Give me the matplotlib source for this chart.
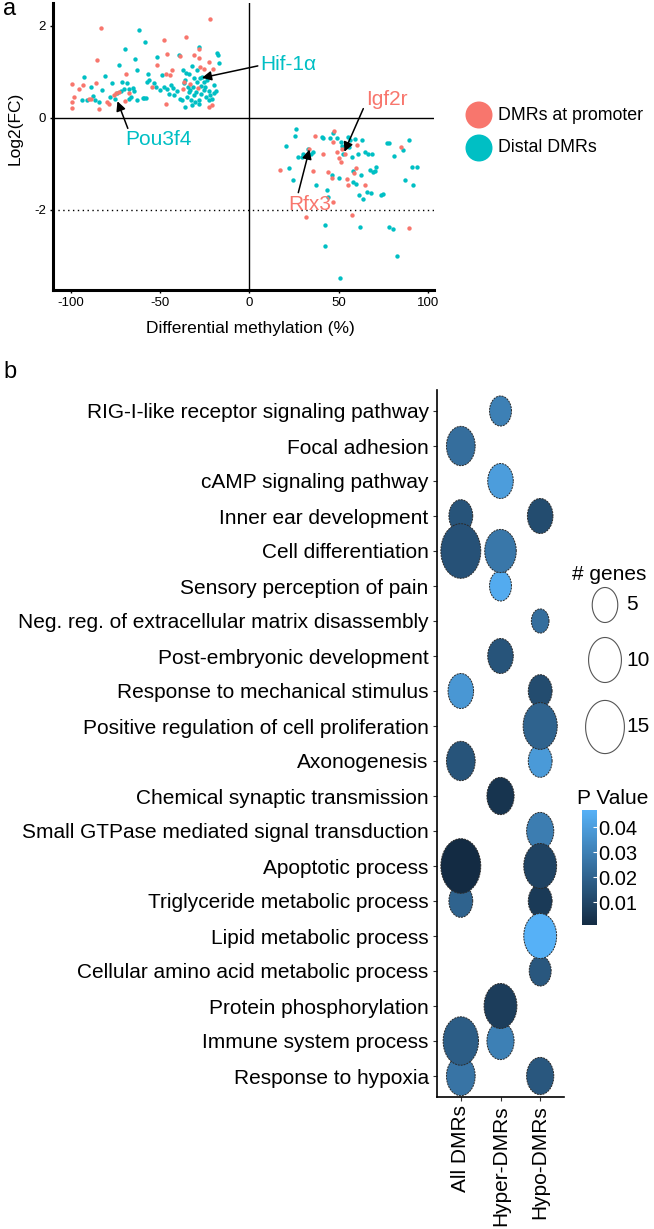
"""
Two-panel DMR figure: (a) log2FC vs differential methylation, (b) GO/KEGG bubble plot.
"""

import numpy as np
import matplotlib
matplotlib.use('Agg')
import matplotlib.pyplot as plt
from matplotlib.path import Path
from matplotlib.colors import LinearSegmentedColormap, Normalize
import matplotlib.cm as cm

plt.rcParams['font.family'] = ['Liberation Sans', 'DejaVu Sans']

W, H = 654, 1229
fig = plt.figure(figsize=(W / 100, H / 100), dpi=100)
fig.patch.set_facecolor('white')

pink = '#F8766D'
teal = '#00BFC4'

# ── panel a data: (differential methylation %, log2 FC) ──
prom_x = [-99.4, -99.4, -99.4, -98.1, -95.7, -93.3, -90.1, -88.8, -86.0, -85.4, -84.0, -83.0,
          -79.9, -78.9, -76.1, -74.6, -73.3, -69.6, -69.0, -67.7, -54.7, -51.9, -48.1, -46.8,
          -46.3, -46.6, -44.4, -43.5, -38.8, -37.3, -35.6, -33.2, -31.3, -28.0, -28.4, -27.6,
          -25.4, -22.9, -22.9, -22.0, -20.7, -20.5, -28.9, -36.6,
          17.2, 31.7, 33.6, 35.8, 36.8, 41.4, 44.2, 46.1, 47.0, 47.6, 50.4, 51.1, 51.7, 54.5,
          55.4, 57.3, 59.7, 60.4, 58.6, 64.7, 47.0, 84.9, 89.6, 53.4, 48.9]
prom_y = [0.73, 0.35, 0.22, 0.46, 0.62, 0.71, 0.40, 0.42, 0.76, 1.25, 0.20, 1.96,
          0.35, 0.31, 0.49, 0.54, 0.57, 0.37, 0.96, 0.53, 0.67, 1.14, 1.69, 0.95,
          1.38, 0.31, 0.93, 1.05, 1.34, 0.62, 1.76, 0.73, 1.36, 1.49, 1.31, 1.11,
          1.07, 1.22, 0.24, 2.16, 0.28, 1.07, 0.64, 0.78,
          -1.14, -2.15, -0.67, -1.15, -0.40, -0.79, -1.17, -1.32, -0.52, -0.28, -0.88, -0.96,
          -0.69, -1.33, -1.46, -2.12, -1.10, -0.59, -1.21, -1.46, -1.83, -0.63, -2.39, -0.78, -0.74]

dist_x = [-93.8, -92.5, -90.7, -88.8, -87.7, -86.4, -84.5, -82.6, -80.8, -78.0, -76.9, -75.2,
          -73.9, -72.8, -72.0, -71.5, -70.5, -69.6, -68.7, -67.7, -67.2, -66.4, -65.3, -64.9,
          -64.0, -63.1, -61.6, -59.7, -57.8, -57.5, -58.2, -56.9, -56.0, -53.4, -52.2, -50.0,
          -49.1, -48.1, -46.3, -45.3, -44.0, -42.9, -42.5, -40.7, -39.2, -38.8, -37.3, -36.9,
          -36.0, -35.4, -35.1, -34.5, -34.1, -33.6, -33.2, -32.8, -32.3, -31.7, -31.3, -31.0,
          -30.4, -29.9, -29.5, -29.1, -28.5, -28.0, -27.6, -27.2, -27.1, -26.3, -25.7, -25.4,
          -24.8, -24.3, -23.9, -22.9, -22.4, -22.0, -21.1, -20.1, -19.8, -18.7, -17.9, -17.4,
          -16.8, -37.9, -36.0, -32.3, -28.0, -59.0, -63.1, -51.5,
          20.5, 22.4, 24.6, 25.6, 26.1, 27.4, 29.3, 30.2, 32.1, 33.0, 34.5, 35.4, 37.3, 40.5,
          41.4, 42.4, 42.4, 43.7, 44.2, 45.1, 46.1, 47.0, 48.9, 50.4, 50.7, 51.1, 51.7, 52.6,
          54.5, 55.4, 56.0, 56.3, 57.3, 57.8, 58.2, 59.1, 59.7, 61.0, 61.6, 62.0, 62.3, 62.9,
          63.8, 64.7, 65.7, 66.6, 67.5, 67.9, 68.5, 69.4, 70.3, 70.9, 73.7, 74.6, 76.9, 78.4,
          78.4, 80.6, 81.2, 82.5, 86.2, 87.1, 89.6, 90.9, 91.4, 94.0]
dist_y = [0.38, 0.89, 0.38, 0.67, 0.47, 0.38, 0.35, 0.60, 0.91, 0.46, 0.76, 0.40,
          0.53, 1.14, 0.59, 0.78, 0.62, 1.49, 0.76, 0.40, 0.62, 0.46, 0.64, 0.59,
          1.29, 1.05, 1.91, 0.44, 0.44, 0.78, 1.65, 0.95, 0.83, 0.76, 0.67, 0.60,
          0.93, 0.66, 0.62, 0.51, 0.71, 0.64, 0.49, 0.59, 1.36, 0.42, 1.04, 0.75,
          0.82, 0.98, 0.46, 0.66, 0.57, 0.95, 0.60, 0.38, 1.12, 0.67, 0.49, 0.86,
          0.35, 0.57, 0.78, 1.04, 0.38, 1.54, 0.86, 0.69, 0.51, 0.89, 0.60, 0.78,
          0.66, 0.46, 0.83, 0.59, 0.38, 0.49, 0.42, 0.71, 0.53, 0.59, 1.41, 1.36,
          1.20, 0.38, 0.24, 0.28, 0.30, 0.44, 0.38, 1.33,
          -0.61, -1.10, -1.36, -0.40, -0.25, -0.85, -0.85, -0.78, -0.85, -0.68, -0.78, -0.74,
          -1.46, -0.41, -0.45, -2.33, -2.79, -1.57, -1.72, -0.45, -1.25, -0.34, -0.45, -1.32,
          -3.49, -0.52, -0.61, -0.78, -0.57, -0.41, -0.64, -0.49, -0.85, -1.15, -1.39, -0.47,
          -1.44, -0.78, -1.68, -2.37, -1.25, -0.49, -1.77, -0.74, -1.61, -0.79, -1.14, -1.63,
          -0.78, -1.17, -1.15, -1.07, -1.68, -1.66, -0.54, -0.55, -2.37, -2.43, -0.83, -3.01,
          -0.70, -1.36, -0.49, -1.07, -1.46, -1.07]

# labelled genes
gene_names = ['Hif-1α', 'Pou3f4', 'Igf2r', 'Rfx3']
gene_pt = [(-26.6, 0.87), (-73.9, 0.36), (53.2, -0.74), (33.6, -0.69)]
gene_tail = [(4.7, 1.13), (-68.1, -0.23), (63.8, 0.20), (27.4, -1.63)]
gene_txt = [(6, 1.15), (-51, -0.48), (77, 0.40), (34, -1.88)]
gene_col = [teal, teal, pink, pink]

# ── panel b data ──
terms = ['RIG-I-like receptor signaling pathway', 'Focal adhesion', 'cAMP signaling pathway',
         'Inner ear development', 'Cell differentiation', 'Sensory perception of pain',
         'Neg. reg. of extracellular matrix disassembly', 'Post-embryonic development',
         'Response to mechanical stimulus', 'Positive regulation of cell proliferation',
         'Axonogenesis', 'Chemical synaptic transmission',
         'Small GTPase mediated signal transduction', 'Apoptotic process',
         'Triglyceride metabolic process', 'Lipid metabolic process',
         'Cellular amino acid metabolic process', 'Protein phosphorylation',
         'Immune system process', 'Response to hypoxia']
groups = ['All DMRs', 'Hyper-DMRs', 'Hypo-DMRs']
# number of genes (0 = term not enriched in that set)
all_n   = [0, 7, 0, 4, 16, 0, 0, 0, 5, 0, 7, 0, 0, 16, 4, 0, 0, 0, 12, 7]
hyper_n = [3, 0, 5, 0, 9, 3, 0, 5, 0, 0, 0, 6, 0, 0, 0, 0, 0, 10, 6, 0]
hypo_n  = [0, 0, 0, 5, 0, 0, 1, 0, 4, 11, 4, 0, 6, 10, 4, 10, 3, 0, 0, 6]
all_p   = [0, .024, 0, .015, .014, 0, 0, 0, .038, 0, .015, 0, 0, .0008, .020, 0, 0, 0, .018, .026]
hyper_p = [.030, 0, .040, 0, .027, .045, 0, .015, 0, 0, 0, .004, 0, 0, 0, 0, 0, .007, .030, 0]
hypo_p  = [0, 0, 0, .012, 0, 0, .024, 0, .012, .020, .039, 0, .029, .009, .006, .047, .016, 0, 0, .016]
size_breaks = [5, 10, 15]
p_ticks = [0.01, 0.02, 0.03, 0.04]

# ══════════════════════════════════════
# PANEL A
# ══════════════════════════════════════
ax = fig.add_axes([53 / W, 1 - 290 / H, 381 / W, 287 / H])
ax.set_xlim(-110, 103.4)
ax.set_ylim(-3.75, 2.5)
ax.axhline(0, color='black', lw=1.0, zorder=1)
ax.axvline(0, color='black', lw=1.0, zorder=1)
ax.axhline(-2, color='black', lw=1.0, ls=(0, (1, 2.5)), zorder=1)
ax.scatter(prom_x, prom_y, s=10, c=pink, lw=0, zorder=3)
ax.scatter(dist_x, dist_y, s=10, c=teal, lw=0, zorder=2)

for name, pt, tail, tx, col in zip(gene_names, gene_pt, gene_tail, gene_txt, gene_col):
    ha = 'left' if name == 'Hif-1α' else 'center'
    ax.text(tx[0], tx[1], name, ha=ha, va='center', fontsize=15, color=col, zorder=5)
    ax.annotate('', xy=pt, xytext=tail, zorder=6,
                arrowprops=dict(arrowstyle='-|>', color='black', lw=1.1,
                                mutation_scale=14, shrinkA=0, shrinkB=0))

for s in ['top', 'right']:
    ax.spines[s].set_visible(False)
for s in ['left', 'bottom']:
    ax.spines[s].set_linewidth(2.2)
ax.set_xticks([-100, -50, 0, 50, 100])
ax.set_xticklabels(['-100', '-50', '0', '50', '100'])
ax.set_yticks([-2, 0, 2])
ax.set_yticklabels(['-2', '0', '2'])
ax.tick_params(labelsize=9.5, length=2, width=1, pad=3)
ax.set_xlabel('Differential methylation (%)', fontsize=12.5)
ax.set_ylabel('Log2(FC)', fontsize=12.5)
ax.xaxis.set_label_coords(0.517, -0.108)
ax.yaxis.set_label_coords(-0.081, 0.563)

# ══════════════════════════════════════
# PANEL B
# ══════════════════════════════════════
ratio = 1.37
th = np.linspace(0, 2 * np.pi, 121)
ellipse = Path(np.column_stack([np.cos(th) / ratio, np.sin(th)]))


def bubble_size(n):
    # marker height in px grows with sqrt of a linear area scale
    h_px = np.sqrt(425 + 160 * np.asarray(n, dtype=float))
    return (h_px * 72 / 100) ** 2


cmap = LinearSegmentedColormap.from_list('gg', ['#132B43', '#56B1F7'])
p_all = [p for p in all_p + hyper_p + hypo_p if p > 0]
norm = Normalize(vmin=min(p_all), vmax=max(p_all))

bx = fig.add_axes([437 / W, 1 - 1097 / H, 127 / W, 707 / H])
nrow = len(terms)
pts_x, pts_y, pts_n, pts_p = [], [], [], []
for gi, (ns, ps) in enumerate([(all_n, all_p), (hyper_n, hyper_p), (hypo_n, hypo_p)]):
    for i in range(nrow):
        if ns[i] > 0:
            pts_x.append(gi)
            pts_y.append(nrow - 1 - i)
            pts_n.append(ns[i])
            pts_p.append(ps[i])
order = np.argsort(pts_n, kind='stable')
pts_x = np.array(pts_x)[order]
pts_y = np.array(pts_y)[order]
pts_n = np.array(pts_n)[order]
pts_p = np.array(pts_p)[order]
bx.scatter(pts_x, pts_y, s=bubble_size(pts_n), c=pts_p, cmap=cmap, norm=norm,
           marker=ellipse, edgecolors='#2b2b2b', linewidths=0.7, linestyles=(0, (2, 1)),
           zorder=3, clip_on=False)

bx.set_xlim(-0.6, 2.6)
bx.set_ylim(-0.6, nrow - 0.4)
bx.set_xticks(range(3))
bx.set_xticklabels(groups, rotation=90, va='top', ha='center')
bx.set_yticks(range(nrow))
bx.set_yticklabels(terms[::-1])
bx.tick_params(labelsize=15, length=3, width=0.8, color='#333333', pad=3)
for s in ['top', 'right']:
    bx.spines[s].set_visible(False)
for s in ['left', 'bottom']:
    bx.spines[s].set_linewidth(1.2)

# colourbar
cax = fig.add_axes([582 / W, 1 - 925 / H, 15 / W, 115 / H])
sm = cm.ScalarMappable(norm=norm, cmap=cmap)
cb = fig.colorbar(sm, cax=cax, ticks=p_ticks)
cb.outline.set_visible(False)
cb.ax.set_yticklabels(['%.2f' % t for t in p_ticks])
cb.ax.tick_params(labelsize=14.5, length=3, width=0.8, color='white', direction='in', pad=1)

# ── legends / panel letters on an overlay in pixel coordinates ──
lay = fig.add_axes([0, 0, 1, 1], zorder=10)
lay.set_xlim(0, W)
lay.set_ylim(H, 0)
lay.axis('off')
lay.patch.set_alpha(0)

lay.text(3, 9, 'a', fontsize=17, ha='left', va='center')
lay.text(3, 372, 'b', fontsize=17, ha='left', va='center')

lay.scatter([479, 479], [115, 148], s=(27 * 0.72) ** 2, c=[pink, teal], lw=0)
lay.text(498, 115, 'DMRs at promoter', fontsize=12.8, va='center', ha='left')
lay.text(498, 148, 'Distal DMRs', fontsize=12.8, va='center', ha='left')

lay.text(572, 575, '# genes', fontsize=15, va='center', ha='left')
leg_y = [605, 660, 727]
lay.scatter([605] * 3, leg_y, s=bubble_size(size_breaks), marker=ellipse,
            facecolors='white', edgecolors='#555555', linewidths=0.8)
for b, yy in zip(size_breaks, leg_y):
    lay.text(626, yy, str(b), fontsize=15, va='center', ha='left')
lay.text(577, 798, 'P Value', fontsize=15, va='center', ha='left')

fig.savefig('out.png', dpi=100, facecolor='white')
